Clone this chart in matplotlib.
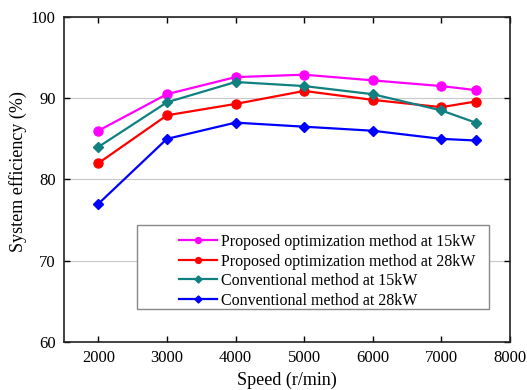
import matplotlib
matplotlib.use("Agg")
import matplotlib.pyplot as plt
from matplotlib.patches import Rectangle

speed = [2000, 3000, 4000, 5000, 6000, 7000, 7500]
prop_15 = [86.0, 90.5, 92.6, 92.9, 92.2, 91.5, 91.0]
prop_28 = [82.0, 87.9, 89.3, 90.9, 89.8, 88.9, 89.6]
conv_15 = [84.0, 89.5, 92.0, 91.5, 90.5, 88.5, 87.0]
conv_28 = [77.0, 85.0, 87.0, 86.5, 86.0, 85.0, 84.8]
labels = ["Proposed optimization method at 15kW",
          "Proposed optimization method at 28kW",
          "Conventional method at 15kW",
          "Conventional method at 28kW"]

plt.rcParams['font.family'] = ['Liberation Serif', 'DejaVu Serif']

fig = plt.figure(figsize=(5.27, 3.9), dpi=100)
ax = fig.add_axes([0.1214, 0.1231, 0.8463, 0.8333])

series = [(prop_15, '#ff00ff', 'o', 6.5),
          (prop_28, '#ff0000', 'o', 6.5),
          (conv_15, '#108080', 'D', 5.5),
          (conv_28, '#0000ff', 'D', 5.5)]
handles = []
for (vals, c, m, ms), lab in zip(series, labels):
    h, = ax.plot(speed, vals, color=c, marker=m, markersize=ms, linewidth=1.6, label=lab)
    handles.append(h)

ax.set_xlim(1500, 8000)
ax.set_ylim(60, 100)
ax.set_xticks([2000, 3000, 4000, 5000, 6000, 7000, 8000])
ax.set_yticks([60, 70, 80, 90, 100])
ax.yaxis.grid(True, color='#c8c8c8', linewidth=0.8)
ax.set_axisbelow(True)
ax.tick_params(direction='in', top=True, right=True, labelsize=12, length=4, width=1, pad=6)
for s in ax.spines.values():
    s.set_linewidth(1.2)
    s.set_color('#222222')
ax.set_xlabel('Speed (r/min)', fontsize=13, labelpad=4)
ax.set_ylabel('System efficiency (%)', fontsize=13)
ax.yaxis.set_label_coords(-0.082, 0.525)

# legend frame
x0 = (137 - 64) / 446
x1 = (489 - 64) / 446
y0 = (342 - 309) / 325
y1 = (342 - 225) / 325
ax.add_patch(Rectangle((x0, y0), x1 - x0, y1 - y0, transform=ax.transAxes,
                       facecolor='white', edgecolor='#888888', linewidth=1.0, zorder=5))
leg = ax.legend(handles=handles, loc='upper left',
                bbox_to_anchor=((179 - 64) / 446, (342 - 234) / 325),
                frameon=False, fontsize=11.5, handlelength=2.4, handletextpad=0.2,
                labelspacing=0.22, borderpad=0, borderaxespad=0, markerscale=0.65)
leg.set_zorder(6)

fig.savefig('out.png', dpi=100)
